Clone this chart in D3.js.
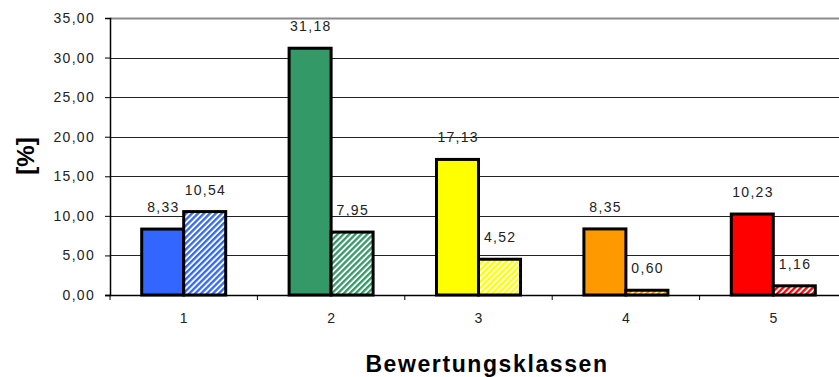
<!DOCTYPE html>
<html><head><meta charset="utf-8">
<script src="https://cdn.jsdelivr.net/npm/d3@7"></script>
<style>body{margin:0;background:#fff}svg{display:block}</style>
</head><body>
<svg id="c" width="839" height="377"></svg>
<script>
const categories = ["1","2","3","4","5"];
const seriesA = [8.33, 31.18, 17.13, 8.35, 10.23];
const seriesB = [10.54, 7.95, 4.52, 0.60, 1.16];
const colors = ["#3366ff","#339966","#ffff00","#ff9900","#ff0000"];
const yTicks = [0,5,10,15,20,25,30,35];
const yLabel = "[%]";
const xLabel = "Bewertungsklassen";

const FONT = "Arial, 'Liberation Sans', sans-serif";
const svg = d3.select("#c");
const L = 110, T = 18, B = 295, R = 847;
const x = d3.scaleBand().domain(categories).range([L, R]);
const y = d3.scaleLinear().domain([0,35]).range([B, T]);
const fmt = v => d3.format(".2f")(v).replace(".", ",");

const defs = svg.append("defs");
colors.forEach((c,i) => {
  const p = defs.append("pattern").attr("id","h"+i).attr("patternUnits","userSpaceOnUse")
    .attr("width",4.2).attr("height",4.2).attr("patternTransform","rotate(45)");
  p.append("rect").attr("width",4.2).attr("height",4.2).attr("fill","#fff");
  p.append("rect").attr("width",2.3).attr("height",4.2).attr("fill",c);
});

// gridlines
svg.append("g").selectAll("line").data(yTicks.filter(t => t>0 && t<35)).join("line")
  .attr("x1",L).attr("x2",839).attr("y1",d=>Math.round(y(d))+0.5).attr("y2",d=>Math.round(y(d))+0.5)
  .attr("stroke","#222").attr("stroke-width",1.2);
svg.append("line").attr("x1",L).attr("x2",839).attr("y1",T+0.5).attr("y2",T+0.5)
  .attr("stroke","#8a8a8a").attr("stroke-width",2);

// y axis
const yAxis = d3.axisLeft(y).tickValues(yTicks).tickFormat(fmt).tickSize(5).tickPadding(10);
const gy = svg.append("g").attr("transform",`translate(${L},0)`).call(yAxis);
gy.select(".domain").attr("stroke","#000").attr("stroke-width",1.5);
gy.selectAll(".tick line").attr("stroke","#000");
gy.selectAll("text").attr("font-family",FONT).attr("font-size",14).attr("letter-spacing",1.3).attr("fill","#222");

// x axis
const xAxis = d3.axisBottom(x).tickSize(0).tickPadding(18);
const gx = svg.append("g").attr("transform",`translate(0,${B})`).call(xAxis);
gx.select(".domain").remove();
gx.selectAll("text").attr("font-family",FONT).attr("font-size",14).attr("fill","#222");
svg.append("line").attr("x1",L-5).attr("x2",839).attr("y1",B+0.5).attr("y2",B+0.5).attr("stroke","#000").attr("stroke-width",1.5);
svg.append("g").selectAll("line").data(categories).join("line")
  .attr("x1",d=>x(d)).attr("x2",d=>x(d)).attr("y1",B).attr("y2",B+5).attr("stroke","#000");

// bars
const bw = 42;
const g = svg.append("g");
categories.forEach((c,i) => {
  const cx = x(c) + x.bandwidth()/2;
  const items = [
    {v: seriesA[i], x0: cx - bw, fill: colors[i]},
    {v: seriesB[i], x0: cx, fill: `url(#h${i})`}
  ];
  items.forEach(d => {
    g.append("rect").attr("x",d.x0).attr("y",y(d.v)).attr("width",bw).attr("height",B - y(d.v))
      .attr("fill",d.fill).attr("stroke","#000").attr("stroke-width",3);
    g.append("text").attr("x",d.x0 + bw/2 + 0.7).attr("y",y(d.v) - 17).attr("text-anchor","middle")
      .attr("font-family",FONT).attr("font-size",14).attr("letter-spacing",1.3).attr("fill","#222")
      .text(fmt(d.v));
  });
});

// axis titles
svg.append("text").attr("transform","translate(34,156) rotate(-90)").attr("text-anchor","middle")
  .attr("font-family",FONT).attr("font-weight","bold").attr("font-size",24)
  .text(yLabel);
svg.append("text").attr("x",487).attr("y",372).attr("text-anchor","middle")
  .attr("font-family",FONT).attr("font-weight","bold").attr("font-size",23).attr("letter-spacing",1.6)
  .text(xLabel);
</script>
</body></html>
